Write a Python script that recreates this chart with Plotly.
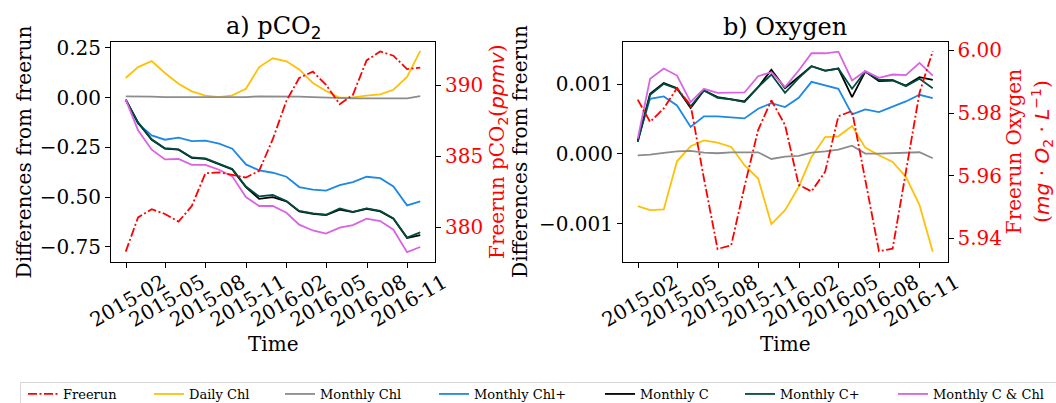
import plotly.graph_objects as go

# ---------------- data ----------------
dates = ["2015-01-31", "2015-02-28", "2015-03-31", "2015-04-30", "2015-05-31", "2015-06-30",
         "2015-07-31", "2015-08-31", "2015-09-30", "2015-10-31", "2015-11-30", "2015-12-31",
         "2016-01-31", "2016-02-29", "2016-03-31", "2016-04-30", "2016-05-31", "2016-06-30",
         "2016-07-31", "2016-08-31", "2016-09-30", "2016-10-31", "2016-11-30"]

x_tick_vals = ["2015-02-01", "2015-05-01", "2015-08-01", "2015-11-01",
               "2016-02-01", "2016-05-01", "2016-08-01", "2016-11-01"]
x_tick_text = ["2015-02", "2015-05", "2015-08", "2015-11",
               "2016-02", "2016-05", "2016-08", "2016-11"]

series_names = ["Freerun", "Daily Chl", "Monthly Chl", "Monthly Chl+",
                "Monthly C", "Monthly C+", "Monthly C & Chl"]
series_colors = ["#ff0000", "#ffc107", "#8c8c8c", "#1e88e5", "#000000", "#004d40", "#d963e3"]

# a) pCO2
freerun_pco2 = [378.29, 380.70, 381.27, 380.94, 380.40, 381.50, 383.80, 383.87, 383.69, 383.50,
                383.97, 386.20, 388.90, 390.50, 390.95, 390.02, 388.66, 389.32, 391.74, 392.37,
                392.07, 391.13, 391.24]
daily_chl_pco2 = [0.099, 0.154, 0.184, 0.124, 0.070, 0.032, 0.010, 0.003, 0.012, 0.045, 0.154,
                  0.198, 0.183, 0.142, 0.074, 0.034, 0.000, 0.002, 0.010, 0.017, 0.040, 0.104, 0.235]
monthly_chl_pco2 = [0.007, 0.007, 0.005, 0.003, 0.002, 0.003, 0.003, 0.003, 0.003, 0.003, 0.007,
                    0.007, 0.007, 0.005, 0.003, 0.000, -0.003, -0.003, -0.003, -0.003, -0.003,
                    -0.003, 0.008]
monthly_chlp_pco2 = [-0.010, -0.131, -0.189, -0.211, -0.201, -0.218, -0.216, -0.231, -0.256,
                     -0.335, -0.365, -0.377, -0.397, -0.449, -0.462, -0.467, -0.439, -0.424,
                     -0.397, -0.404, -0.446, -0.541, -0.521]
monthly_c_pco2 = [-0.010, -0.126, -0.211, -0.256, -0.261, -0.302, -0.307, -0.332, -0.360, -0.449,
                  -0.508, -0.500, -0.521, -0.571, -0.583, -0.590, -0.562, -0.575, -0.558, -0.571,
                  -0.608, -0.705, -0.690]
monthly_cp_pco2 = [-0.010, -0.124, -0.209, -0.254, -0.259, -0.300, -0.305, -0.330, -0.358, -0.446,
                   -0.496, -0.489, -0.519, -0.569, -0.581, -0.588, -0.556, -0.573, -0.556, -0.569,
                   -0.606, -0.703, -0.677]
monthly_cchl_pco2 = [-0.010, -0.164, -0.261, -0.310, -0.308, -0.337, -0.337, -0.362, -0.395,
                     -0.499, -0.544, -0.544, -0.578, -0.638, -0.667, -0.683, -0.653, -0.640,
                     -0.608, -0.620, -0.663, -0.776, -0.750]

# b) Oxygen
freerun_o2 = [5.9843, 5.9772, 5.9815, 5.9880, 5.9825, 5.9592, 5.9366, 5.9378, 5.9565, 5.9746,
              5.9841, 5.9762, 5.9571, 5.9550, 5.9613, 5.9790, 5.9807, 5.9583, 5.9359, 5.9367,
              5.9608, 5.9865, 5.9998]
daily_chl_o2 = [-0.000749, -0.000807, -0.000797, -0.000105, 0.000110, 0.000196, 0.000162,
                0.000100, -0.000162, -0.000353, -0.001007, -0.000807, -0.000473, -0.000043,
                0.000243, 0.000253, 0.000401, 0.000091, -0.000019, -0.000115, -0.000329,
                -0.000735, -0.001403]
monthly_chl_o2 = [-0.000019, -0.000010, 0.000014, 0.000038, 0.000043, 0.000019, 0.000010,
                  0.000024, 0.000024, 0.000024, -0.000072, -0.000038, -0.000029, 0.000019,
                  0.000038, 0.000062, 0.000119, 0.000005, 0.000005, 0.000010, 0.000014,
                  0.000024, -0.000062]
monthly_chlp_o2 = [0.000196, 0.000792, 0.000826, 0.000697, 0.000387, 0.000539, 0.000539,
                   0.000530, 0.000511, 0.000649, 0.000730, 0.000673, 0.000807, 0.001036,
                   0.000983, 0.000936, 0.000568, 0.000640, 0.000601, 0.000673, 0.000754,
                   0.000850, 0.000802]
monthly_c_o2 = [0.000186, 0.000864, 0.001017, 0.000945, 0.000659, 0.000912, 0.000816, 0.000788,
                0.000754, 0.000959, 0.001208, 0.000945, 0.001112, 0.001260, 0.001198, 0.001227,
                0.000816, 0.001184, 0.001045, 0.001055, 0.000983, 0.001103, 0.001064]
monthly_cp_o2 = [0.000172, 0.000850, 0.001007, 0.000936, 0.000683, 0.000912, 0.000807, 0.000783,
                 0.000745, 0.000959, 0.001141, 0.000878, 0.001088, 0.001260, 0.001193, 0.001227,
                 0.000936, 0.001184, 0.001064, 0.001064, 0.000974, 0.001079, 0.000945]
monthly_cchl_o2 = [0.000220, 0.001079, 0.001227, 0.001126, 0.000745, 0.000936, 0.000878,
                   0.000883, 0.000883, 0.001117, 0.001174, 0.000959, 0.001198, 0.001446,
                   0.001446, 0.001470, 0.001055, 0.001189, 0.001093, 0.001141, 0.001131,
                   0.001308, 0.001126]

pco2_diffs = [daily_chl_pco2, monthly_chl_pco2, monthly_chlp_pco2, monthly_c_pco2,
              monthly_cp_pco2, monthly_cchl_pco2]
o2_diffs = [daily_chl_o2, monthly_chl_o2, monthly_chlp_o2, monthly_c_o2,
            monthly_cp_o2, monthly_cchl_o2]

# ---------------- figure ----------------
W, H = 1056, 403
FONT = "DejaVu Serif"

def px_x(p):
    return p / W

def px_y(p):
    return 1 - p / H

fig = go.Figure()

legend_names = ["legend", "legend2", "legend3", "legend4", "legend5", "legend6", "legend7"]
LW = 1.8
DASHDOT = "9px,2.5px,2px,2.5px"

for i, ys in enumerate(pco2_diffs):
    fig.add_trace(go.Scatter(x=dates, y=ys, mode="lines", name=series_names[i + 1],
                             line=dict(color=series_colors[i + 1], width=LW),
                             xaxis="x", yaxis="y", legend=legend_names[i + 1],
                             showlegend=True))
fig.add_trace(go.Scatter(x=dates, y=freerun_pco2, mode="lines", name=series_names[0],
                         line=dict(color=series_colors[0], width=LW, dash=DASHDOT),
                         xaxis="x", yaxis="y2", legend=legend_names[0], showlegend=True))
for i, ys in enumerate(o2_diffs):
    fig.add_trace(go.Scatter(x=dates, y=ys, mode="lines", name=series_names[i + 1],
                             line=dict(color=series_colors[i + 1], width=LW),
                             xaxis="x2", yaxis="y3", showlegend=False))
fig.add_trace(go.Scatter(x=dates, y=freerun_o2, mode="lines", name=series_names[0],
                         line=dict(color=series_colors[0], width=LW, dash=DASHDOT),
                         xaxis="x2", yaxis="y4", showlegend=False))

x_range = ["2014-12-28 13:12", "2017-01-02 10:48"]
y_dom = [px_y(262.3), px_y(41.5)]
left_dom = [px_x(111), px_x(435)]
right_dom = [px_x(623), px_x(947.5)]

tickfont = dict(family=FONT, size=20, color="black")
redfont = dict(family=FONT, size=20, color="red")

common_x = dict(type="date", range=x_range, tickvals=x_tick_vals, ticktext=x_tick_text,
                tickangle=-30, ticks="outside", ticklen=5, tickwidth=1, tickcolor="black",
                showline=True, linecolor="black", linewidth=1, mirror=True,
                showgrid=False, zeroline=False, tickfont=tickfont, ticklabelshift=36,
                ticklabelstandoff=-5, automargin=False)
common_y = dict(ticks="outside", ticklen=5, tickwidth=1, tickcolor="black",
                showline=True, linecolor="black", linewidth=1,
                showgrid=False, zeroline=False, automargin=False)

fig.update_layout(
    width=W, height=H,
    margin=dict(l=0, r=0, t=0, b=0, autoexpand=False),
    paper_bgcolor="white", plot_bgcolor="white",
    font=dict(family=FONT, size=20, color="black"),
    xaxis=dict(domain=left_dom, anchor="y", **common_x),
    xaxis2=dict(domain=right_dom, anchor="y3", **common_x),
    yaxis=dict(domain=y_dom, anchor="x", range=[-0.827, 0.2825],
               tickvals=[-0.75, -0.5, -0.25, 0, 0.25], tickformat=".2f",
               tickfont=tickfont, **common_y),
    yaxis2=dict(overlaying="y", side="right", anchor="x", range=[377.54, 393.07],
                tickvals=[380, 385, 390], tickformat="d", tickfont=redfont, **common_y),
    yaxis3=dict(domain=y_dom, anchor="x2", range=[-0.001556, 0.001615],
                tickvals=[-0.001, 0, 0.001], tickformat=".3f",
                tickfont=tickfont, **common_y),
    yaxis4=dict(overlaying="y3", side="right", anchor="x2", range=[5.93236, 6.00287],
                tickvals=[5.94, 5.96, 5.98, 6.00], tickformat=".2f", tickfont=redfont,
                **common_y),
    showlegend=True,
)

text_starts = [65, 191, 322, 476, 642, 782, 935]
for name, ts in zip(legend_names, text_starts):
    fig.update_layout({name: dict(orientation="h", x=px_x(ts - 42), xanchor="left",
                                  y=px_y(394), yanchor="middle", bgcolor="rgba(0,0,0,0)",
                                  borderwidth=0, itemwidth=30,
                                  font=dict(family=FONT, size=13, color="black"))})

fig.add_shape(type="rect", xref="paper", yref="paper",
              x0=px_x(20.5), x1=1.05, y0=-0.05, y1=px_y(382.5),
              line=dict(color="#d6d6d6", width=1), fillcolor="rgba(0,0,0,0)", layer="below")

def ann(text, x, y, size=20, color="black", angle=0):
    fig.add_annotation(text=text, x=px_x(x), y=px_y(y), xref="paper", yref="paper",
                       showarrow=False, xanchor="center", yanchor="middle", textangle=angle,
                       font=dict(family=FONT, size=size, color=color))

SANS_SPAN = "<span style='font-family:DejaVu Sans'>{}</span>"
sub2 = "<sub>" + SANS_SPAN.format("2") + "</sub>"
ann("a) pCO" + sub2, 273, 28, size=24)
ann("b) Oxygen", 785.2, 27, size=24)
ann("Time", 273, 344)
ann("Time", 785.2, 344)
ann("Differences from freerun", 23.5, 151.9, angle=-90)
ann("Differences from freerun", 520, 151.9, angle=-90)
ann("Freerun pCO" + sub2 + "(<i>" + SANS_SPAN.format("ppmv") + "</i>)",
    498, 151.9, color="red", angle=-90)
ann("Freerun Oxygen", 1014.3, 151.9, color="red", angle=-90)
ann("(<i>" + SANS_SPAN.format("mg") + "</i>" + SANS_SPAN.format(" · ") +
    "<i>" + SANS_SPAN.format("O") + "</i>" + sub2 + SANS_SPAN.format(" · ") +
    "<i>" + SANS_SPAN.format("L") + "</i><sup>" + SANS_SPAN.format("−1") + "</sup>)",
    1042.8, 151.9, color="red", angle=-90)

fig.write_html("out.html")
